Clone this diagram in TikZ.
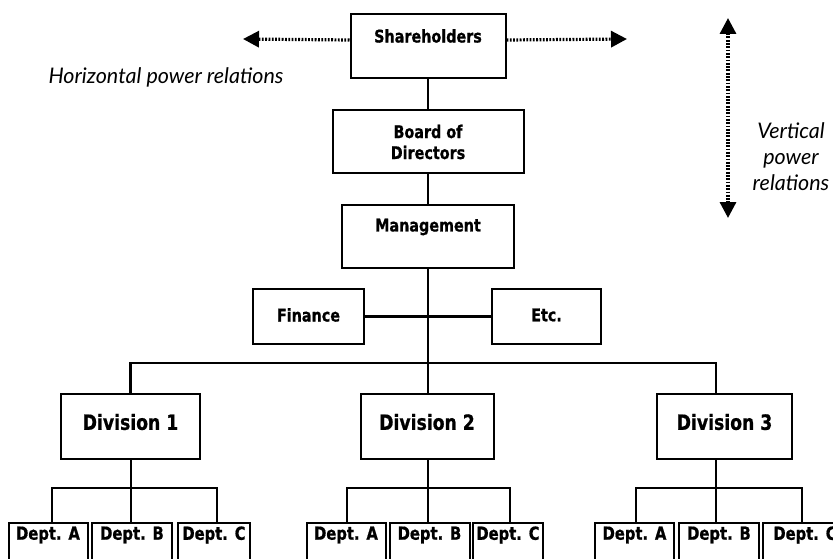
\documentclass[tikz,border=0pt]{standalone}
\usepackage{fontspec}
\usetikzlibrary{arrows.meta}
\newfontfamily\boxfont[FakeStretch=0.82, BoldFeatures={FakeBold=0.8}]{DejaVu Sans}
\newfontfamily\handfont{Lato}
\tikzset{
  box/.style={draw, line width=2pt, inner sep=0pt, anchor=north},
  lbl/.style={font=\boxfont\bfseries\fontsize{17.5}{21}\selectfont, inner sep=0pt, align=center},
  deptlbl/.style={font=\boxfont\bfseries\fontsize{18}{21}\selectfont, inner sep=0pt},
  divlbl/.style={font=\boxfont\bfseries\fontsize{21}{23}\selectfont, inner sep=0pt},
  conn/.style={line width=2.2pt},
  dotline/.style={line width=3.2pt, dash pattern=on 1.8pt off 1.5pt},
  tip/.tip={Triangle[length=16pt,width=16pt]},
  hand/.style={font=\handfont\itshape\fontsize{21.5}{26}\selectfont, inner sep=0pt, align=center},
}
\begin{document}
\begin{tikzpicture}[x=1pt,y=-1pt]
\useasboundingbox (0,0) rectangle (833,559);
\clip (0,0) rectangle (833,559);
% top chain
\node[box, minimum width=155pt, minimum height=64pt] (sh) at (428,13) {};
\node[lbl] (shl) at (428,36) {Shareholders};
\node[box, minimum width=191pt, minimum height=63pt] (bod) at (428,109) {};
\node[lbl] (bodl) at (428,142) {Board of\\Directors};
\node[box, minimum width=172pt, minimum height=63pt] (mg) at (428,204) {};
\node[lbl] (mgl) at (428,227) {Management};
\node[box, minimum width=111pt, minimum height=55pt] (fin) at (308.5,288) {};
\node[lbl] (finl) at (308.5,315) {Finance};
\node[box, minimum width=109pt, minimum height=55pt] (etc) at (546.5,288) {};
\node[lbl] (etcl) at (546.5,315) {Etc.};
% divisions
\node[box, minimum width=139pt, minimum height=65pt] (d1) at (130.5,393) {};
\node[divlbl] (d1l) at (130.5,422) {Division 1};
\node[box, minimum width=133pt, minimum height=65pt] (d2) at (427,393) {};
\node[divlbl] (d2l) at (427,422) {Division 2};
\node[box, minimum width=135pt, minimum height=65pt] (d3) at (724.5,393) {};
\node[divlbl] (d3l) at (724.5,422) {Division 3};
% departments
\foreach \g/\xa/\xb/\xc/\wc in {1/48/132/214/72, 2/346/429.5/508/70, 3/634.5/719/805/84}{
  \node[box, minimum width=79pt, minimum height=60pt] (a\g) at (\xa,522) {};
  \node[deptlbl] (a\g l) at (\xa,535) {Dept. A};
  \node[box, minimum width=80pt, minimum height=60pt] (b\g) at (\xb,522) {};
  \node[deptlbl] (b\g l) at (\xb,535) {Dept. B};
  \node[box, minimum width=\wc pt, minimum height=60pt] (c\g) at (\xc,522) {};
  \node[deptlbl] (c\g l) at (\xc,535) {Dept. C};
}
% connectors
\coordinate (bus) at (428,363);
\draw[conn] (sh.south) -- (bod.north);
\draw[conn] (bod.south) -- (mg.north);
\draw[conn] (mg.south) -- (mg.south |- d2.north);
\draw[conn] (fin.east) -- (etc.west);
\draw[conn] (d1.north) |- (bus) -| ([xshift=-8.5pt]d3.north);
% sub buses
\coordinate (j1) at (131,488);
\coordinate (j2) at (428,488);
\coordinate (j3) at (716,488);
\draw[conn] (j1 |- d1.south) -- (j1);
\draw[conn] ([xshift=4pt]a1.north) |- (j1) -| ([xshift=3pt]c1.north);
\draw[conn] (j1) -- (j1 |- b1.north);
\draw[conn] (j2 |- d2.south) -- (j2);
\draw[conn] ([xshift=1pt]a2.north) |- (j2) -| ([xshift=2pt]c2.north);
\draw[conn] (j2) -- (j2 |- b2.north);
\draw[conn] (j3 |- d3.south) -- (j3);
\draw[conn] ([xshift=1.5pt]a3.north) |- (j3) -| ([xshift=-3pt]c3.north);
\draw[conn] (j3) -- (j3 |- b3.north);
% power relation arrows
\coordinate (hl) at (243,39);
\coordinate (hr) at (627,39);
\draw[dotline, -tip] ([yshift=6pt]sh.west) -- (hl);
\draw[dotline, -tip] ([yshift=6pt]sh.east) -- (hr);
\coordinate (vt) at (728,18);
\coordinate (vb) at (728,218);
\draw[dotline, tip-tip] (vt) -- (vb);
\node[hand] (hlab) at (166,77) {Horizontal power relations};
\node[hand] (vlab) at (791,157) {Vertical\\power\\relations};
\end{tikzpicture}
\end{document}
